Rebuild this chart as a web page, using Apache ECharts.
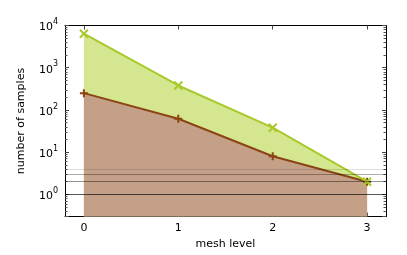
<!DOCTYPE html>
<html><head><meta charset="utf-8">
<script src="https://cdn.jsdelivr.net/npm/echarts@6/dist/echarts.min.js"></script>
<style>html,body{margin:0;padding:0;background:#fff}#c{width:407px;height:255px}</style>
</head><body><div id="c"></div>
<script>
var meshLevels = [0, 1, 2, 3];
var samplesGreen = [6400, 380, 38, 2];
var samplesBrown = [250, 62, 8, 2];
var xTicks = [0, 1, 2, 3];
var refLines = [1, 2, 3, 4];
var refAlpha = [0.65, 0.42, 0.32, 0.13];
var yMin = 0.3, yMax = 10000;

var minorLog = [];
[0.1, 1, 10, 100, 1000].forEach(function (d) {
  for (var k = 2; k <= 9; k++) { var v = k * d; if (v >= yMin && v <= yMax) minorLog.push(Math.log10(v)); }
});

function pairs(ys) { return meshLevels.map(function (x, i) { return [x, ys[i]]; }); }

var FONT = 'DejaVu Sans';
var supLabel = {
  formatter: function (v) {
    var l = Math.log10(v), e = Math.round(l);
    if (Math.abs(l - e) > 1e-6) return '';
    return '{b|10}{s|' + e + '}';
  },
  rich: {
    b: { fontFamily: FONT, fontSize: 11, color: '#000', verticalAlign: 'bottom', lineHeight: 15 },
    s: { fontFamily: FONT, fontSize: 8, color: '#000', verticalAlign: 'top', lineHeight: 15, padding: [0, 0, 4, 0] }
  },
  margin: 7
};

var chart = echarts.init(document.getElementById('c'), null, { renderer: 'canvas' });
var crossPath = 'path://M0,0L10,10M10,0L0,10';
var plusPath = 'path://M5,0L5,10M0,5L10,5';
var minorAxis = function (pos) {
  return { type: 'value', min: Math.log10(yMin), max: Math.log10(yMax), position: pos, offset: 0,
    axisLine: { show: true, onZero: false, lineStyle: { color: 'rgba(0,0,0,0)' } },
    axisTick: { show: true, inside: true, length: 2.5, customValues: minorLog, lineStyle: { color: '#555', width: 1 } },
    axisLabel: { show: false }, splitLine: { show: false } };
};

chart.setOption({
  animation: false,
  grid: { left: 65, right: 21, top: 25.5, bottom: 38.5, show: false },
  xAxis: [
    { type: 'value', min: -0.2, max: 3.2, position: 'bottom',
      name: 'mesh level', nameLocation: 'middle', nameGap: 22,
      nameTextStyle: { fontFamily: FONT, fontSize: 11, color: '#000' },
      axisLine: { show: true, onZero: false, lineStyle: { color: '#000', width: 1 } },
      axisTick: { show: true, inside: true, length: 4, customValues: xTicks, lineStyle: { color: '#444' } },
      axisLabel: { customValues: xTicks, fontFamily: FONT, fontSize: 11, color: '#000', margin: 6 },
      splitLine: { show: false } },
    { type: 'value', min: -0.2, max: 3.2, position: 'top',
      axisLine: { show: true, onZero: false, lineStyle: { color: '#000', width: 1 } },
      axisTick: { show: true, inside: true, length: 4, customValues: xTicks, lineStyle: { color: '#444' } },
      axisLabel: { show: false }, splitLine: { show: false } }
  ],
  yAxis: [
    { type: 'log', logBase: 10, min: yMin, max: yMax, position: 'left',
      name: 'number of samples', nameLocation: 'middle', nameGap: 38, nameRotate: 90,
      nameTextStyle: { fontFamily: FONT, fontSize: 11, color: '#000' },
      axisLine: { show: true, onZero: false, lineStyle: { color: '#000', width: 1 } },
      axisTick: { show: true, inside: true, length: 4, lineStyle: { color: '#444' } },
      axisLabel: supLabel, splitLine: { show: false } },
    { type: 'log', logBase: 10, min: yMin, max: yMax, position: 'right',
      axisLine: { show: true, onZero: false, lineStyle: { color: '#000', width: 1 } },
      axisTick: { show: true, inside: true, length: 4, lineStyle: { color: '#444' } },
      axisLabel: { show: false }, splitLine: { show: false } },
    minorAxis('left'),
    minorAxis('right')
  ],
  series: [
    { type: 'line', data: pairs(samplesGreen), z: 1, showSymbol: false, symbol: 'none',
      lineStyle: { width: 0, opacity: 0 },
      areaStyle: { color: '#d4e68f', opacity: 1, origin: 'start' } },
    { type: 'line', data: pairs(samplesBrown), z: 2, symbol: plusPath, symbolSize: 8,
      lineStyle: { color: '#8b4513', width: 2 },
      itemStyle: { color: 'rgba(0,0,0,0)', borderColor: '#8b4513', borderWidth: 2 },
      areaStyle: { color: '#c4a088', opacity: 1, origin: 'start' },
      markLine: { silent: true, symbol: 'none', label: { show: false },
        data: refLines.map(function (v, i) { return { yAxis: v, lineStyle: { color: 'rgba(0,0,0,' + refAlpha[i] + ')', width: 1, type: 'solid' } }; }) } },
    { type: 'line', data: pairs(samplesGreen), z: 3, symbol: crossPath, symbolSize: 8,
      lineStyle: { color: '#a8c92c', width: 2 },
      itemStyle: { color: 'rgba(0,0,0,0)', borderColor: '#a8c92c', borderWidth: 2 } }
  ]
});
</script></body></html>
